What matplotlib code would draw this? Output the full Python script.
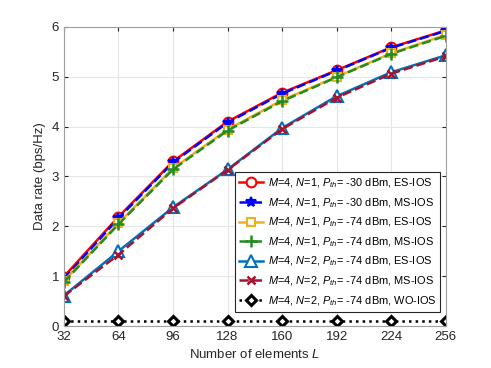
# data rate vs number of IOS elements L, recreated from the figure
import numpy as np
import matplotlib.pyplot as plt

plt.rcParams['font.family'] = ['Liberation Sans', 'DejaVu Sans']
plt.rcParams['mathtext.fontset'] = 'custom'
plt.rcParams['mathtext.it'] = 'Liberation Sans:italic'
plt.rcParams['mathtext.rm'] = 'Liberation Sans'

L = [32, 64, 96, 128, 160, 192, 224, 256]

# values (bps/Hz)
es_n1_30 = [0.99, 2.19, 3.30, 4.10, 4.68, 5.13, 5.59, 5.93]
ms_n1_30 = [0.95, 2.16, 3.28, 4.08, 4.66, 5.12, 5.58, 5.92]
es_n1_74 = [0.90, 2.06, 3.16, 3.94, 4.53, 5.00, 5.47, 5.84]
ms_n1_74 = [0.88, 2.04, 3.14, 3.92, 4.51, 4.99, 5.46, 5.82]
es_n2_74 = [0.61, 1.50, 2.38, 3.14, 3.97, 4.61, 5.09, 5.43]
ms_n2_74 = [0.60, 1.43, 2.36, 3.13, 3.95, 4.58, 5.06, 5.41]
wo_n2_74 = [0.10, 0.10, 0.10, 0.10, 0.10, 0.10, 0.10, 0.10]

labels = [
    r'$M$=4, $N$=1, $P_{th}$= -30 dBm, ES-IOS',
    r'$M$=4, $N$=1, $P_{th}$= -30 dBm, MS-IOS',
    r'$M$=4, $N$=1, $P_{th}$= -74 dBm, ES-IOS',
    r'$M$=4, $N$=1, $P_{th}$= -74 dBm, MS-IOS',
    r'$M$=4, $N$=2, $P_{th}$= -74 dBm, ES-IOS',
    r'$M$=4, $N$=2, $P_{th}$= -74 dBm, MS-IOS',
    r'$M$=4, $N$=2, $P_{th}$= -74 dBm, WO-IOS',
]

fig = plt.figure(figsize=(4.91, 3.68), dpi=100)
ax = fig.add_axes([0.130, 0.114, 0.778, 0.813])

ax.plot(L, es_n1_30, '-o', color='red', lw=1.8, ms=7, mfc='white', mew=1.5, label=labels[0])
ax.plot(L, ms_n1_30, '--*', color='blue', lw=1.8, ms=7, mew=1.5, label=labels[1])
ax.plot(L, es_n1_74, '-s', color='#EDB120', lw=1.8, ms=6, mfc='white', mew=1.5, label=labels[2])
ax.plot(L, ms_n1_74, '--+', color='#228B22', lw=1.8, ms=8, mew=1.8, label=labels[3])
ax.plot(L, es_n2_74, '-^', color='#0072BD', lw=1.8, ms=8, mfc='white', mew=1.5, label=labels[4])
ax.plot(L, ms_n2_74, '--x', color='#A2142F', lw=1.8, ms=6, mew=1.8, label=labels[5])
ax.plot(L, wo_n2_74, ':D', color='black', lw=1.8, ms=5.5, mfc='white', mew=2.2, label=labels[6])

ax.set_xlim(32, 256)
ax.set_ylim(0, 6)
ax.set_xticks(L)
ax.set_yticks(range(7))
ax.grid(True, color='#e6e6e6', lw=0.8)
ax.set_axisbelow(True)
for s in ax.spines.values():
    s.set_color('#a0a0a0')
ax.tick_params(direction='in', colors='#262626', labelsize=9.5, length=3,
               top=True, right=True)
ax.set_xlabel(r'Number of elements $L$', fontsize=9.5, color='#262626')
ax.set_ylabel('Data rate (bps/Hz)', fontsize=9.5, color='#262626')

leg = ax.legend(loc='lower right', bbox_to_anchor=(1.0, 0.03), fontsize=7.9,
                handlelength=2.2, labelspacing=0.55, borderpad=0.35,
                handletextpad=0.4, fancybox=False, framealpha=1)
leg.get_frame().set_edgecolor('#262626')
leg.get_frame().set_linewidth(0.8)

plt.savefig('out.png', dpi=100)
